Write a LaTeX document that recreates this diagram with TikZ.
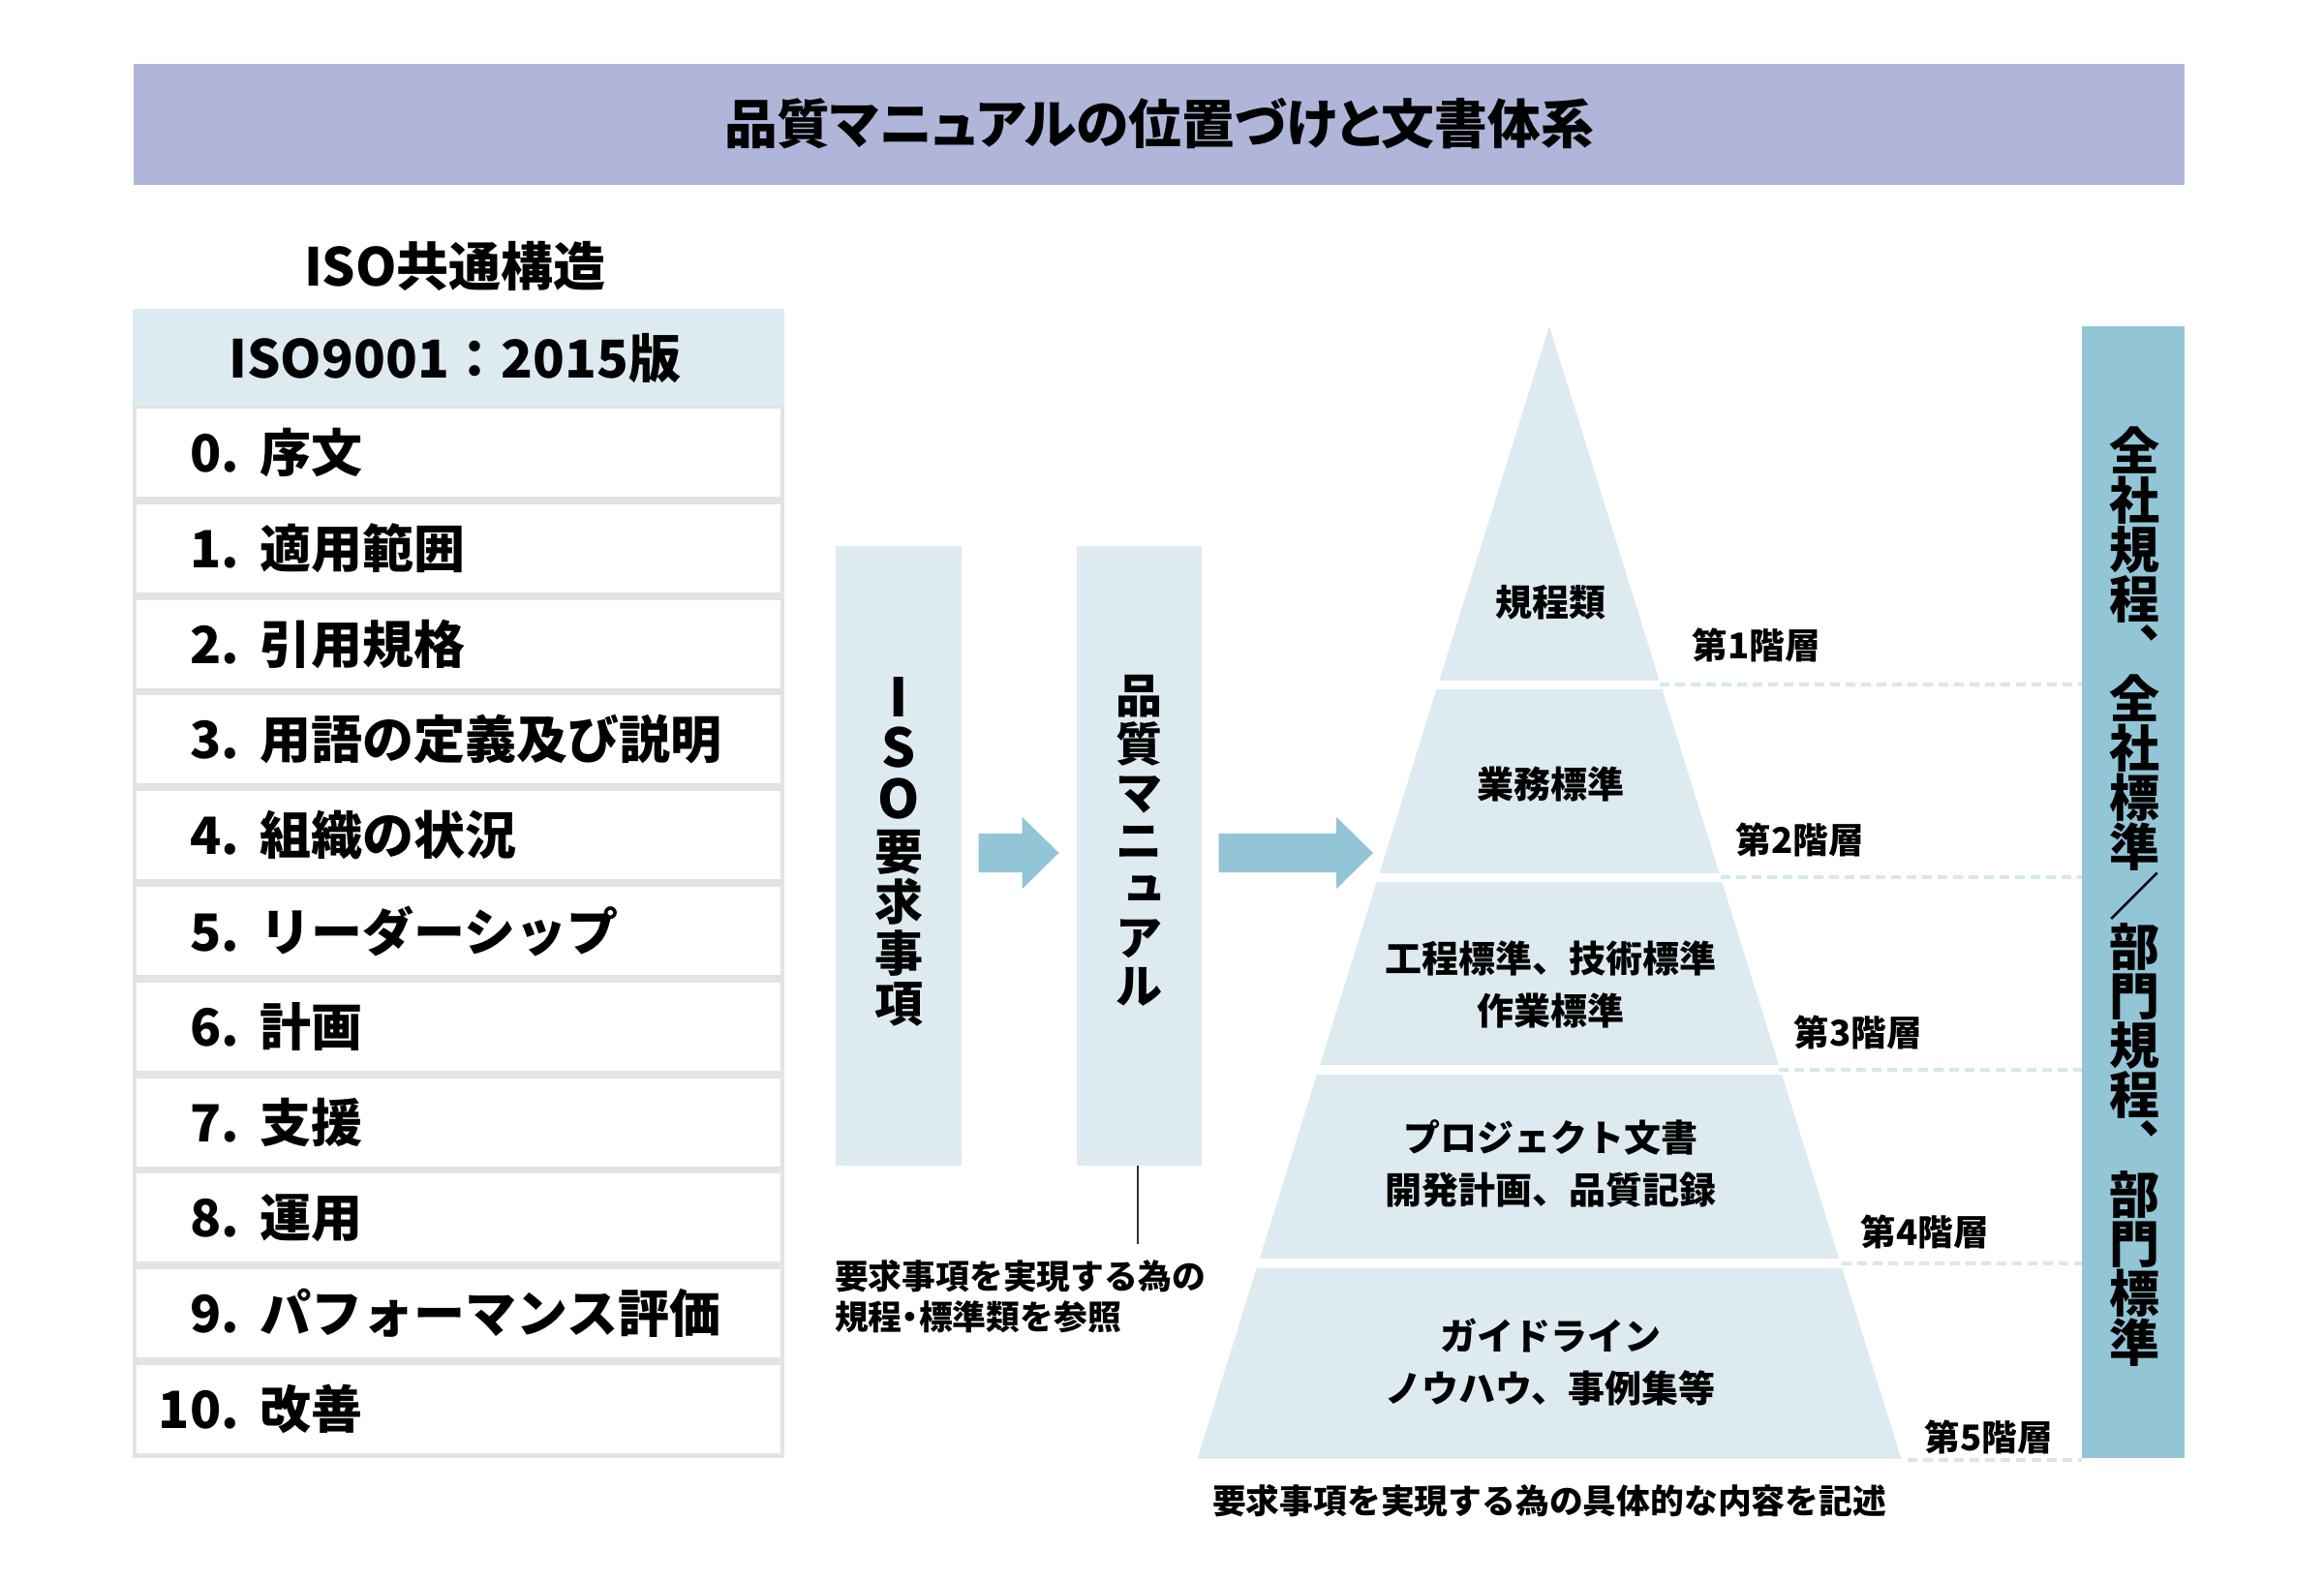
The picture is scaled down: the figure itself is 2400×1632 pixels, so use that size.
\documentclass[tikz,border=0pt]{standalone}
\usepackage{fontspec}
\setmainfont{Noto Sans CJK JP}
\newfontfamily\jpv{Noto Sans CJK JP}[RawFeature=+vert]
\newfontfamily\jpp{Noto Sans CJK JP}[RawFeature=+palt]
\usetikzlibrary{calc}
\definecolor{titlebg}{HTML}{B0B6DA}
\definecolor{paleblue}{HTML}{DDEBF1}
\definecolor{midblue}{HTML}{92C5D6}
\definecolor{rowgray}{HTML}{E3E3E3}
\definecolor{dashblue}{HTML}{D6E7EF}
\newcommand\blockarrow[2]{%
  \fill[midblue] let \p1=(#1), \p2=(#2) in
   (\x1,\y1+10.1pt) -- (\x2-19pt,\y1+10.1pt) -- (\x2-19pt,\y1+18.6pt) -- (\x2,\y1)
   -- (\x2-19pt,\y1-18.6pt) -- (\x2-19pt,\y1-10.1pt) -- (\x1,\y1-10.1pt) -- cycle;}
\newcommand\bigletter[1]{{\fontsize{27.5}{26.3}\selectfont #1}}
\begin{document}
\begin{tikzpicture}[x=0.5pt,y=-0.5pt,
  every node/.style={inner sep=0pt, outer sep=0pt},
  titlefont/.style={font=\jpp\bfseries\fontsize{27.4}{34}\selectfont},
  bigfont/.style={font=\bfseries\fontsize{27}{32}\selectfont},
  rowfont/.style={font=\bfseries\fontsize{26.5}{30}\selectfont},
  rowbox/.style={fill=white, minimum width=332.5pt, minimum height=45.5pt},
  palebox/.style={fill=paleblue},
  vtext/.style={align=center, font=\bfseries\fontsize{25}{26.3}\selectfont},
  pyrfont/.style={align=center, font=\bfseries\fontsize{19}{26.8}\selectfont},
  tierfont/.style={font=\bfseries\fontsize{18.3}{22}\selectfont},
  capfont/.style={align=left, font=\bfseries\fontsize{17.4}{21}\selectfont},
  dashline/.style={draw=dashblue, line width=2pt, dash pattern=on 5pt off 3pt},
]
\useasboundingbox[fill=white] (0,0) rectangle (2400,1632);

% title bar
\node[fill=titlebg, minimum width=1059pt, minimum height=62.5pt] (titlebar) at (1197,128.5) {};
\node[titlefont] (title) at (1197,128) {品質マニュアルの位置づけと文書体系};

% left table
\node[bigfont] (isolabel) at (470,275) {ISO共通構造};
\fill[rowgray] (137,419) rectangle (810,1506);
\node[palebox, minimum width=336.5pt, minimum height=50pt] (hdr) at (473.5,369) {};
\node[bigfont] (hdrtext) at (470,370) {ISO9001：2015版};
\foreach \n/\t [count=\i from 0] in {0./序文,1./適用範囲,2./引用規格,3./用語の定義及び説明,4./組織の状況,5./リーダーシップ,6./計画,7./支援,8./運用,9./パフォーマンス評価,10./改善}{
  \node[rowbox] (row\i) at (473.5,{467.5+98.8*\i}) {};
  \node[rowfont, anchor=west] (rowt\i) at (181,{467.5+98.8*\i}) {\makebox[33pt][r]{\n}\hspace{11pt}\t};
}

% middle boxes
\node[palebox, minimum width=65pt, minimum height=320pt] (boxA) at (928,884) {};
\node[vtext] (boxAtext) at (928,880) {\bigletter{I}\\\bigletter{S}\\\bigletter{O}\\要\\求\\事\\項};
\node[palebox, minimum width=64.5pt, minimum height=320pt] (boxB) at (1176.5,884) {};
\node[vtext, font=\bfseries\fontsize{24}{25}\selectfont] (boxBtext) at (1176,868) {品\\質\\マ\\ニ\\{\jpv ュ}\\ア\\ル};

% block arrows
\coordinate (a1s) at ($(boxA.east)+(17.5,-3)$);
\coordinate (a1e) at ($(boxB.west)+(-18.5,-3)$);
\blockarrow{a1s}{a1e}
\coordinate (a2s) at ($(boxB.east)+(17.5,-3)$);
\coordinate (pyrin) at (1418,881);
\blockarrow{a2s}{pyrin}

% caption under quality manual
\coordinate (capline) at ($(boxB.south)+(-2,81)$);
\draw[line width=1pt, draw=black!80] (boxB.south -| capline) -- (capline);
\node[capfont, anchor=west] (cap) at (862,1339) {要求事項を実現する為の\\規程{\jpp ・}標準類を参照};

% pyramid
\coordinate (apex) at (1600,337);
\coordinate (bl) at (1236.5,1507);
\coordinate (br) at (1963.5,1507);
\begin{scope}
  \clip (apex) -- (br) -- (bl) -- cycle;
  \fill[paleblue] (1200,330) rectangle (2000,703);
  \fill[paleblue] (1200,712) rectangle (2000,902);
  \fill[paleblue] (1200,911) rectangle (2000,1100);
  \fill[paleblue] (1200,1110) rectangle (2000,1300);
  \fill[paleblue] (1200,1310) rectangle (2000,1507);
\end{scope}
\node[pyrfont] (l1) at (1601,622) {規程類};
\node[pyrfont] (l2) at (1601,810) {業務標準};
\node[pyrfont] (l3) at (1601,1017) {工程標準、技術標準\\作業標準};
\node[pyrfont] (l4) at (1601,1202) {プロジェクト文書\\開発計画、品質記録};
\node[pyrfont] (l5) at (1601,1407) {ガイドライン\\ノウハウ、事例集等};

\node[tierfont] (t1) at (1814,666) {第1階層};
\node[tierfont] (t2) at (1859,867) {第2階層};
\node[tierfont] (t3) at (1919,1066) {第3階層};
\node[tierfont] (t4) at (1988,1272) {第4階層};
\node[tierfont] (t5) at (2054,1484) {第5階層};

\node[capfont] (bottomcap) at (1600,1550) {要求事項を実現する為の具体的な内容を記述};

% right panel
\node[fill=midblue, minimum width=53pt, minimum height=584.5pt] (panel) at (2203,921.5) {};
\node[vtext, font=\bfseries\fontsize{26}{25.6}\selectfont] (paneltext) at (2204,926)
  {全\\社\\規\\程\\{\jpv 、}\\全\\社\\標\\準\\／\\部\\門\\規\\程\\{\jpv 、}\\部\\門\\標\\準};

% dashed level lines
\coordinate (d1) at (1714,707);
\coordinate (d2) at (1777,906);
\coordinate (d3) at (1837,1105);
\coordinate (d4) at (1902,1305);
\coordinate (d5) at (1970,1508);
\foreach \d in {d1,d2,d3,d4,d5}{
  \draw[dashline] (\d) -- (\d -| panel.west);
}
\end{tikzpicture}
\end{document}
